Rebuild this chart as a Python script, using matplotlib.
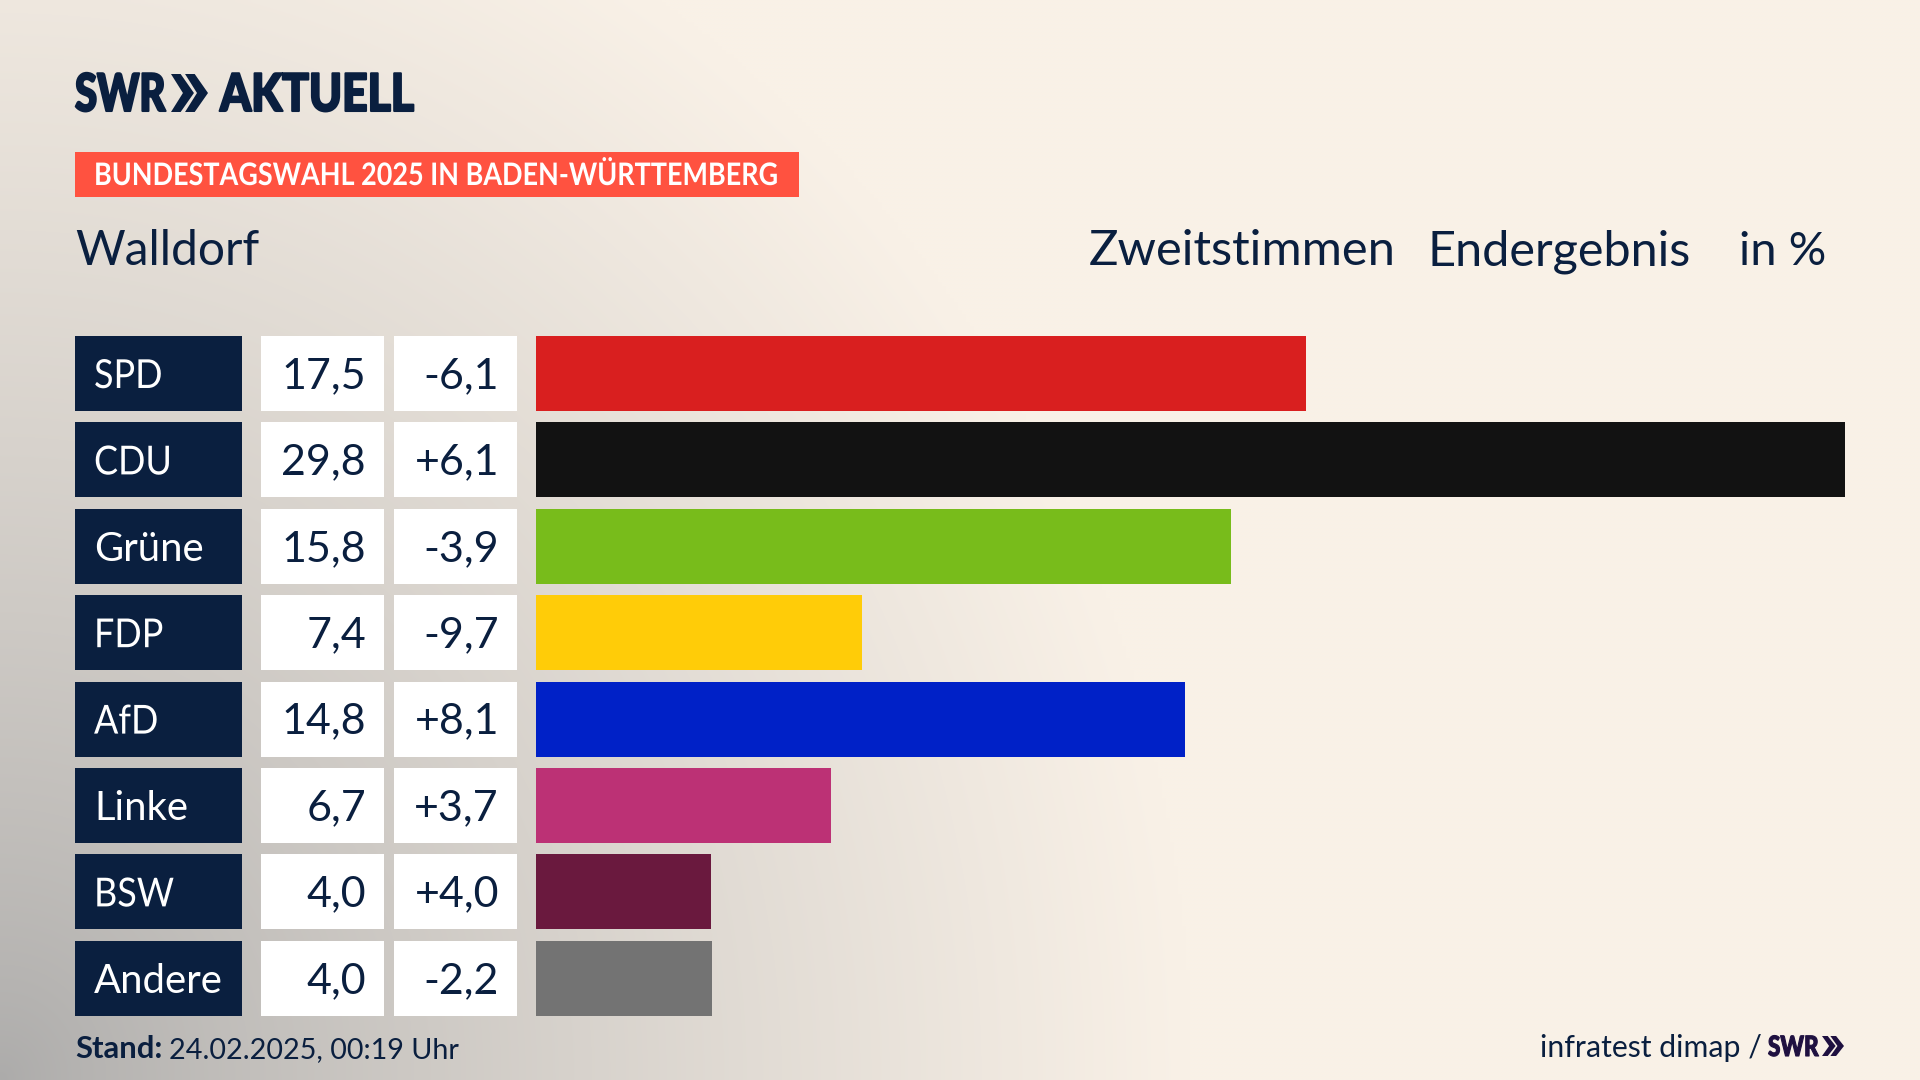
import numpy as np
import matplotlib
matplotlib.use("Agg")
import matplotlib.pyplot as plt
from matplotlib.patches import Rectangle, Polygon
from matplotlib.patheffects import AbstractPathEffect
from matplotlib.transforms import Affine2D

# data
parties = ["SPD", "CDU", "Grüne", "FDP", "AfD", "Linke", "BSW", "Andere"]
shares = [17.52, 29.8, 15.82, 7.42, 14.78, 6.72, 3.98, 4.0]
share_labels = ["17,5", "29,8", "15,8", "7,4", "14,8", "6,7", "4,0", "4,0"]
changes = ["-6,1", "+6,1", "-3,9", "-9,7", "+8,1", "+3,7", "+4,0", "-2,2"]
colors = ["#d91f1f", "#121212", "#78bc1b", "#ffcc08", "#0021c7", "#bc3175", "#6a193e", "#737373"]

NAVY = "#0a1f3f"
LOGO_DARK = "#1f1040"
W, H = 1920, 1080

plt.rcParams["font.family"] = ["Lato", "DejaVu Sans"]

fig = plt.figure(figsize=(19.2, 10.8), dpi=100)


class Squeeze(AbstractPathEffect):
    # narrows left aligned text, the house font is more condensed than Lato
    def __init__(self, sx, stroke=0):
        super().__init__()
        self.sx = sx
        self.stroke = stroke

    def draw_path(self, renderer, gc, tpath, affine, rgbFace=None):
        gc0 = renderer.new_gc()
        gc0.copy_properties(gc)
        if self.stroke:
            gc0.set_linewidth(self.stroke)
            gc0.set_foreground(rgbFace)
        renderer.draw_path(gc0, tpath, Affine2D().scale(self.sx, 1) + affine, rgbFace)
        gc0.restore()


def px(size):
    return size * 0.72


# background, grey corner at bottom left fading to cream
bg = fig.add_axes([0, 0, 1, 1])
xx, yy = np.meshgrid(np.linspace(0, 1, 480), np.linspace(0, 1, 270))
t = np.clip(np.sqrt((xx / 0.62) ** 2 + (yy / 1.2) ** 2), 0, 1)
t = t ** 0.8
cream = np.array([249, 241, 231]) / 255
grey = np.array([172, 171, 170]) / 255
img = grey + (cream - grey) * t[..., None]
bg.imshow(img, origin="lower", extent=[0, W, H, 0], aspect="auto", interpolation="bilinear")
bg.set_xlim(0, W)
bg.set_ylim(H, 0)
bg.axis("off")


def label(x, y, s, size, color=NAVY, sx=None, stroke=0, **kw):
    txt = bg.text(x, y, s, fontsize=px(size), color=color, va="baseline", **kw)
    if sx is not None:
        txt.set_path_effects([Squeeze(sx, stroke)])
    return txt


def chevrons(x, y, w, h, color):
    cw = w * 0.62
    step = w - cw
    for i in range(2):
        x0 = x + i * step
        pts = [(x0, y), (x0 + cw * 0.42, y), (x0 + cw, y + h / 2),
               (x0 + cw * 0.42, y + h), (x0, y + h), (x0 + cw * 0.52, y + h / 2)]
        bg.add_patch(Polygon(pts, closed=True, fc=color, ec="none"))


# header
label(75, 111, "SWR", 52, weight="black", sx=0.77, stroke=1.5)
chevrons(171, 74, 37, 38, NAVY)
label(220, 111, "AKTUELL", 52, weight="black", sx=0.855, stroke=1.5)

bg.add_patch(Rectangle((75, 152), 724, 45, fc="#ff5240", ec="none"))
label(94, 185, "BUNDESTAGSWAHL 2025 IN BADEN-WÜRTTEMBERG", 31, color="white", weight="bold", sx=0.87)

label(75, 265, "Walldorf", 48)
label(1089, 265, "Zweitstimmen", 49)
label(1428, 265, "Endergebnis", 48.6)
label(1826, 265, "in %", 47, ha="right")

# table cells left of the bars
row_top = 336
row_h = 75
row_step = 86.4
for i, party in enumerate(parties):
    top = row_top + i * row_step
    base = top + 52
    bg.add_patch(Rectangle((75, top), 167, row_h, fc=NAVY, ec="none"))
    bg.add_patch(Rectangle((261, top), 123, row_h, fc="white", ec="none"))
    bg.add_patch(Rectangle((394, top), 123, row_h, fc="white", ec="none"))
    # caps run wider in Lato than the lower case names do
    sx = 0.9 if party in ("SPD", "CDU", "FDP", "AfD", "BSW") else None
    label(94, base, party, 40, color="white", sx=sx)
    label(366, base, share_labels[i], 43, ha="right")
    label(499, base, changes[i], 43, ha="right")

# bars
left, right = 536, 1845
centre_first = row_top + row_h / 2
bar_top = centre_first - row_step / 2
bar_bottom = bar_top + row_step * len(parties)
ax = fig.add_axes([left / W, 1 - bar_bottom / H, (right - left) / W, (bar_bottom - bar_top) / H])
ax.barh(range(len(parties)), shares, height=row_h / row_step, color=colors)
ax.set_xlim(0, max(shares))
ax.set_ylim(len(parties) - 0.5, -0.5)
ax.axis("off")

# footer
label(75, 1058, "Stand:", 31, weight="bold")
label(169, 1058, "24.02.2025, 00:19 Uhr", 28.7)
label(1540, 1057, "infratest dimap /", 30.3)
label(1768, 1056, "SWR", 28, color=LOGO_DARK, weight="black", sx=0.8, stroke=0.8)
chevrons(1822, 1036, 22, 20, LOGO_DARK)

fig.savefig("out.png", dpi=100)
